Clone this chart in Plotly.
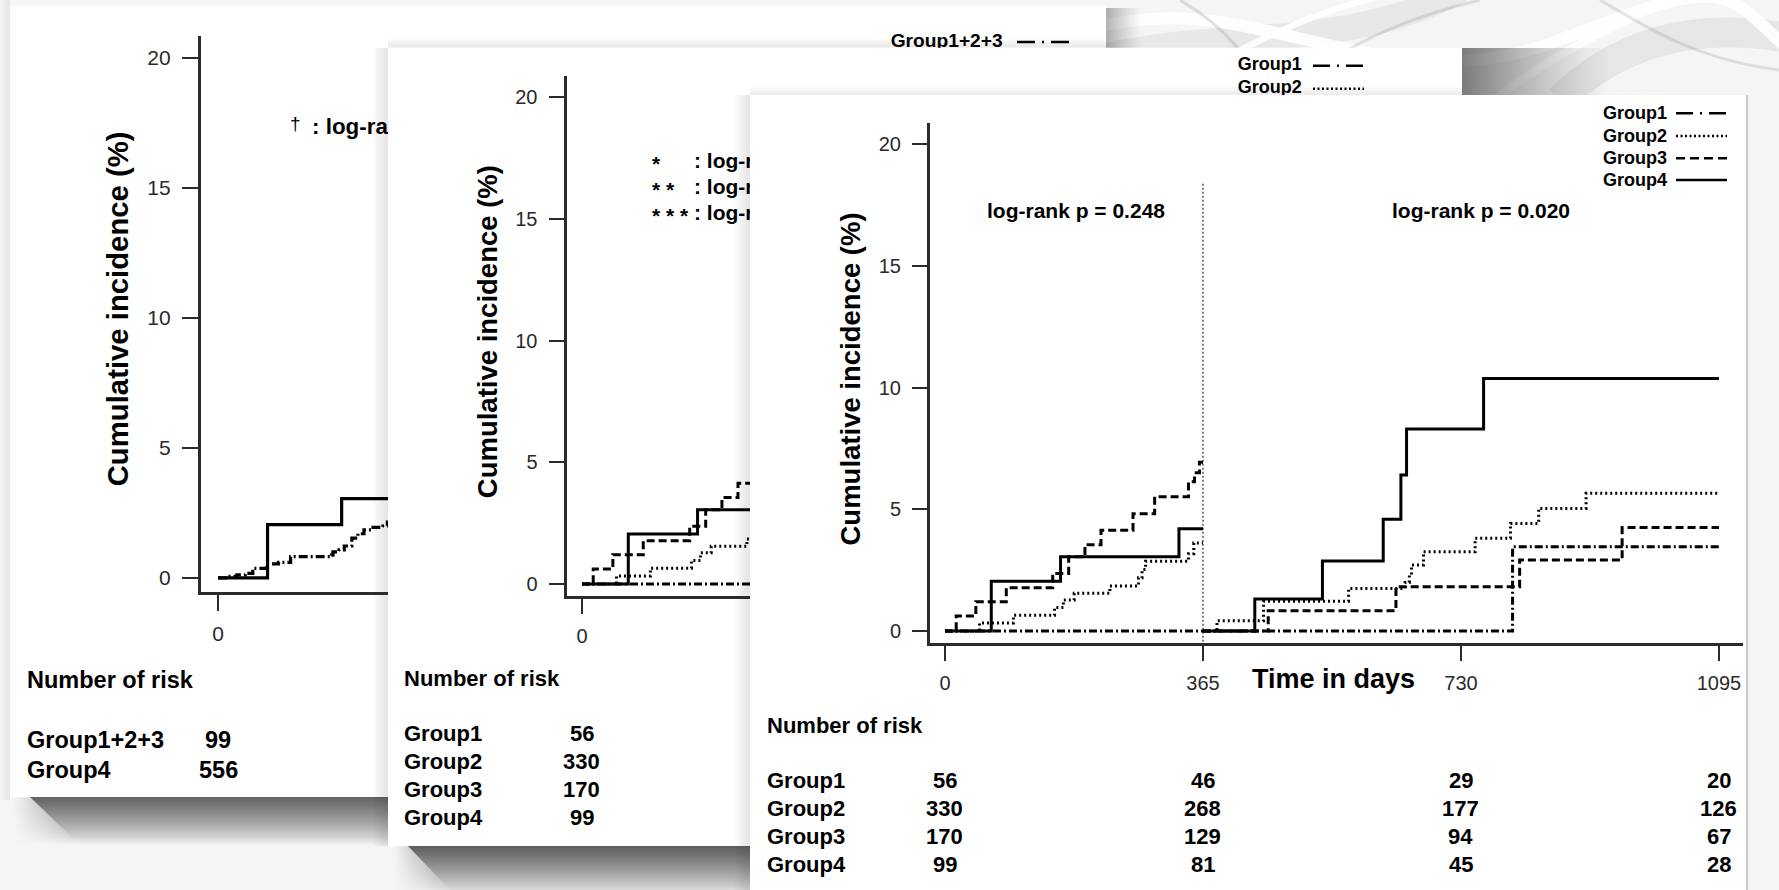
import plotly.graph_objects as go

W, H = 1779, 890
FONT = "Liberation Sans, Arial, Helvetica, sans-serif"
INK = "#000000"
AXIS = "#2b2b2b"
TICKTXT = "#2a2a2a"
BG = (245, 245, 245)

# ---------------- data ----------------
# cumulative incidence (%) during the first year (0-365 days)
g1_y1_days = [0, 365]
g1_y1_pct = [0, 0]
g2_y1_days = [0, 48.8, 96.8, 155, 167.5, 182.8, 233.3, 273.8, 278.8, 283.8, 344.5, 352, 365]
g2_y1_pct = [0, 0.33, 0.65, 0.97, 1.28, 1.55, 1.85, 2.19, 2.53, 2.87, 3.18, 3.62, 3.62]
g3_y1_days = [0, 15.9, 43.7, 86.7, 152.4, 175, 198, 220.7, 266, 296.6, 344.5, 353, 360, 365]
g3_y1_pct = [0, 0.62, 1.20, 1.78, 2.37, 3.05, 3.55, 4.14, 4.82, 5.52, 6.13, 6.50, 6.94, 6.94]
g4_y1_days = [0, 65.5, 163.5, 331, 365]
g4_y1_pct = [0, 2.05, 3.05, 4.20, 4.20]

# cumulative incidence (%) from day 365 to day 1095 (landmark period)
g1_y2_days = [365, 803, 1095]
g1_y2_pct = [0, 3.46, 3.46]
g2_y2_days = [365, 384.8, 450.7, 571, 651, 657, 660, 677, 750, 800, 840, 907, 1095]
g2_y2_pct = [0, 0.42, 1.23, 1.75, 2.0, 2.3, 2.71, 3.26, 3.81, 4.42, 5.04, 5.66, 5.66]
g3_y2_days = [365, 457.3, 638, 813, 958, 1095]
g3_y2_pct = [0, 0.84, 1.82, 2.92, 4.25, 4.25]
g4_y2_days = [365, 438.3, 534, 620, 645, 653, 762, 1095]
g4_y2_pct = [0, 1.32, 2.88, 4.59, 6.41, 8.30, 10.38, 10.38]

# pooled Group1+2+3
g123_days = [0, 12, 25, 36, 46, 64, 80, 96, 150, 152, 160, 167, 177, 185, 193, 205, 218, 224, 240]
g123_pct = [0, 0.06, 0.12, 0.18, 0.37, 0.54, 0.60, 0.82, 0.88, 1.00, 1.08, 1.23, 1.53, 1.70, 1.85, 1.95, 2.00, 2.15, 2.15]

# numbers at risk
risk_days = [0, 365, 730, 1095]
risk_groups = ["Group1", "Group2", "Group3", "Group4"]
risk_g1 = [56, 46, 29, 20]
risk_g2 = [330, 268, 177, 126]
risk_g3 = [170, 129, 94, 67]
risk_g4 = [99, 81, 45, 28]
pooled_groups = ["Group1+2+3", "Group4"]
pooled_risk0 = [99, 556]

x_ticks = [0, 365, 730, 1095]
y_ticks = [0, 5, 10, 15, 20]
p_first_year = "log-rank p = 0.248"
p_landmark = "log-rank p = 0.020"

# line styles per group
DASH = {"g1": "8px,3px,2px,3px", "g2": "2px,3px", "g3": "8px,4px", "g4": "solid"}


def px(x):
    return x / W


def py(y):
    return 1 - y / H


fig = go.Figure()
shapes = []

# ---------------- backdrop layer (subplot xy, pixel coordinates) ----------------
def poly(xs, ys, color=None, grad=None):
    fig.add_trace(go.Scatter(x=xs + [xs[0]], y=ys + [ys[0]], mode="lines", line=dict(width=0),
                             fill="toself", fillcolor=color, fillgradient=grad,
                             xaxis="x", yaxis="y", hoverinfo="skip", showlegend=False))


def rgba(a, rgb=(0, 0, 0)):
    return f"rgba({rgb[0]},{rgb[1]},{rgb[2]},{a:.3f})"


def fade(a0, a1, rgb=(0, 0, 0), power=1.25):
    stops = []
    for k in range(7):
        t = k / 6
        a = a1 + (a0 - a1) * (1 - t) ** power
        stops.append([t, rgba(a, rgb)])
    return stops


def shadow_box(x0, y0, x1, y1, a0, a1, orient, start, stop, power=1.25):
    poly([x0, x1, x1, x0], [y0, y0, y1, y1],
         grad=dict(type=orient, start=start, stop=stop, colorscale=fade(a0, a1, power=power)))


def soft_end(x0, x1, x2, y0, y1):
    # fades the left end of a drop shadow back into the backdrop
    poly([x0, x1, x2, x0], [y0, y0, y1, y1],
         grad=dict(type="horizontal", start=x0, stop=x2,
                   colorscale=[[0, rgba(1, BG)], [0.5, rgba(0.6, BG)], [1, rgba(0, BG)]]))


# soft swirls in the backdrop
for path, wdt, col in [
    ("M 1060,70 C 1200,20 1330,60 1460,-10", 26, "rgba(0,0,0,0.05)"),
    ("M 1560,100 C 1620,40 1700,20 1800,40", 30, "rgba(0,0,0,0.06)"),
    ("M 1090,30 C 1250,-20 1380,110 1560,40 S 1720,-10 1800,60", 12, "rgba(255,255,255,0.9)"),
    ("M 1150,95 C 1260,40 1330,0 1420,-10", 6, "rgba(255,255,255,0.9)"),
    ("M 1500,95 C 1560,50 1640,10 1700,-10", 8, "rgba(255,255,255,0.9)"),
    ("M 1180,0 C 1230,30 1250,60 1270,100", 3, "rgba(120,120,120,0.22)"),
    ("M 1330,60 C 1380,30 1420,15 1480,0", 3, "rgba(120,120,120,0.2)"),
    ("M 1600,0 C 1650,30 1700,60 1779,70", 3, "rgba(120,120,120,0.2)"),
]:
    shapes.append(dict(type="path", path=path, xref="x", yref="y", layer="below",
                       line=dict(color=col, width=wdt)))

# faint shading along the far left edge
shadow_box(0, 0, 10, 800, 0.0, 0.06, "horizontal", 0, 10)

# card 1 with its drop shadow
shadow_box(14, 797, 1106, 845, 0.60, 0.0, "vertical", 797, 845, 0.8)
soft_end(14, 30, 80, 797, 845)
shadow_box(1106, 8, 1142, 48, 0.30, 0.0, "horizontal", 1106, 1142, 1.2)
poly([10, 1106, 1106, 10], [5.7, 5.7, 797, 797], color="#ffffff")

# card 2
shadow_box(372, 48, 388, 846, 0.0, 0.10, "horizontal", 372, 388)
shadow_box(388, 38, 1106, 47.7, 0.0, 0.09, "vertical", 38, 47.7)
shadow_box(394, 846, 1462, 896, 0.62, 0.0, "vertical", 846, 896, 0.8)
soft_end(394, 408, 454, 846, 894)
shadow_box(1462, 48, 1610, 95, 0.50, 0.0, "horizontal", 1462, 1610, 1.2)
poly([388, 1462, 1462, 388], [47.7, 47.7, 846, 846], color="#ffffff")

# card 3
shadow_box(734, 95, 750, 892, 0.0, 0.10, "horizontal", 734, 750)
shadow_box(750, 86, 1462, 95, 0.0, 0.08, "vertical", 86, 95)
poly([750, 1747, 1747, 750], [95, 95, 892, 892], color="#ffffff")
fig.add_trace(go.Scatter(x=[1747, 1747], y=[95, 892], mode="lines", line=dict(color="#b8b8b8", width=1.5),
                         xaxis="x", yaxis="y", hoverinfo="skip", showlegend=False))


# ---------------- axes ----------------
def cart_axes(xdom, ydom, xr, yr, ticklen, fsize, lw):
    ax = dict(domain=[px(xdom[0]), px(xdom[1])], range=xr, showline=True, linewidth=lw,
              linecolor=AXIS, ticks="outside", ticklen=ticklen, tickwidth=2, tickcolor=AXIS,
              tickvals=x_ticks, ticktext=[str(v) for v in x_ticks],
              tickfont=dict(family=FONT, size=fsize, color=TICKTXT),
              showgrid=False, zeroline=False, fixedrange=True, ticklabelstandoff=5)
    ay = dict(domain=[py(ydom[1]), py(ydom[0])], range=yr, showline=True, linewidth=lw,
              linecolor=AXIS, ticks="outside", ticklen=ticklen, tickwidth=2, tickcolor=AXIS,
              tickvals=y_ticks, ticktext=[str(v) for v in y_ticks],
              tickfont=dict(family=FONT, size=fsize, color=TICKTXT),
              showgrid=False, zeroline=False, fixedrange=True, ticklabelstandoff=7)
    return ax, ay


def hidden_axes(xdom, ydom):
    hx = dict(domain=[px(xdom[0]), px(xdom[1])], range=[xdom[0], xdom[1]], visible=False, fixedrange=True)
    hy = dict(domain=[py(ydom[1]), py(ydom[0])], range=[ydom[1], ydom[0]], visible=False, fixedrange=True)
    return hx, hy


ax0, ay0 = hidden_axes((0, W), (0, H))             # backdrop in pixel coordinates
ax1, ay1 = cart_axes((201, 388), (36, 592), [-22.5, 224.8], [-0.54, 20.85], 16, 21, 3.2)
ax2, ay2 = cart_axes((566.5, 750), (76, 595.7), [-21.9, 237.7], [-0.48, 20.87], 15, 20, 3)
ax3, ay3 = cart_axes((930, 1743), (123.3, 643), [-21.2, 1129], [-0.49, 20.86], 15, 20, 3)
ax4, ay4 = hidden_axes((388, 1106), (5.7, 47.7))   # strip of card 1 above card 2
ax5, ay5 = hidden_axes((750, 1462), (47.7, 95))    # strip of card 2 above card 3

C1 = ("x2", "y2")
C2 = ("x3", "y3")
C3 = ("x4", "y4")
S1 = ("x5", "y5")
S2 = ("x6", "y6")


# ---------------- curves ----------------
def step(xs, ys, dash, sub, width=3):
    fig.add_trace(go.Scatter(x=xs, y=ys, mode="lines", line=dict(shape="hv", color=INK, width=width, dash=dash),
                             xaxis=sub[0], yaxis=sub[1], hoverinfo="skip", showlegend=False))


# card 1: pooled groups vs Group4
step(g123_days, g123_pct, "9px,3px,2px,3px", C1, 3.2)
step(g4_y1_days, g4_y1_pct, "solid", C1, 3.2)

# card 2: four groups
step(g1_y1_days, g1_y1_pct, DASH["g1"], C2)
step(g2_y1_days, g2_y1_pct, DASH["g2"], C2)
step(g3_y1_days, g3_y1_pct, DASH["g3"], C2)
step(g4_y1_days, g4_y1_pct, DASH["g4"], C2)

# card 3: first year and landmark period
fig.add_trace(go.Scatter(x=[365, 365], y=[-0.6, 18.4], mode="lines",
                         line=dict(color="#555555", width=1.5, dash="2px,2px"),
                         xaxis=C3[0], yaxis=C3[1], hoverinfo="skip", showlegend=False))
for xs, ys, d in [(g1_y1_days, g1_y1_pct, "g1"), (g2_y1_days, g2_y1_pct, "g2"),
                  (g3_y1_days, g3_y1_pct, "g3"), (g4_y1_days, g4_y1_pct, "g4"),
                  (g1_y2_days, g1_y2_pct, "g1"), (g2_y2_days, g2_y2_pct, "g2"),
                  (g3_y2_days, g3_y2_pct, "g3"), (g4_y2_days, g4_y2_pct, "g4")]:
    step(xs, ys, DASH[d], C3)


# ---------------- clipped texts (partly hidden under upper cards) ----------------
def clipped_text(x, y, text, size, sub, weight="bold"):
    fig.add_trace(go.Scatter(x=[x], y=[y], mode="text", text=[text], textposition="middle right",
                             textfont=dict(family=FONT, size=size, color=INK, weight=weight),
                             xaxis=sub[0], yaxis=sub[1], hoverinfo="skip", showlegend=False, cliponaxis=True))


def sample(x0, x1, y, dash, sub, width=2.5):
    fig.add_trace(go.Scatter(x=[x0, x1], y=[y, y], mode="lines", line=dict(color=INK, width=width, dash=dash),
                             xaxis=sub[0], yaxis=sub[1], hoverinfo="skip", showlegend=False))


# card 1 note and legend
clipped_text((312 - 218) / 0.75616, (578 - 128) / 26.0, ": log-ra", 22.4, C1)
clipped_text(890.7, 42, "Group1+2+3", 19.2, S1)
sample(1017, 1071, 42, "18px,7px,2px,7px", S1)

# card 2 notes and legend
for yy in (163, 189, 215):
    clipped_text((694 - 582) / 0.7068, (584.1 - yy) / 24.34, ": log-r", 21, C2)
clipped_text(1237.7, 65.7, "Group1", 18, S2)
clipped_text(1237.7, 88.7, "Group2", 18, S2)
sample(1313, 1364, 65.7, "17px,7px,2px,7px", S2)
sample(1313, 1364, 88.7, "2px,2.5px", S2)

# ---------------- annotations ----------------
ann = []


def text(x, y, s, size, xanchor="left", bold=True, angle=0, xref="paper", color=INK):
    ann.append(dict(x=x if xref != "paper" else px(x), y=py(y), xref=xref, yref="paper", text=s,
                    showarrow=False, xanchor=xanchor, yanchor="middle", textangle=angle,
                    font=dict(family=FONT, size=size, color=color, weight="bold" if bold else "normal")))


# y titles
text(117, 309.3, "Cumulative incidence (%)", 29.3, "center", angle=-90)
text(487, 332.2, "Cumulative incidence (%)", 27.5, "center", angle=-90)
text(850, 379.5, "Cumulative incidence (%)", 27.5, "center", angle=-90)

# card 1 extras
text(288, 124, "†", 19, "left", bold=False)
text(25, 680, "Number of risk", 23.5)
for lab, n, yy in zip(pooled_groups, pooled_risk0, (740, 770)):
    text(25, yy, lab, 23.5)
    text(0, yy, str(n), 23.5, "center", xref=C1[0])

# card 2 extras
for stars, yy in zip(("*", "* *", "* * *"), (163, 189, 215)):
    text(650, yy, stars, 21, "left")
text(402, 678, "Number of risk", 22)
rows2 = (733.4, 761.5, 789.2, 817.0)
for lab, vals, yy in zip(risk_groups, (risk_g1, risk_g2, risk_g3, risk_g4), rows2):
    text(402, yy, lab, 22)
    text(0, yy, str(vals[0]), 22, "center", xref=C2[0])

# card 3
text(1076, 210.7, p_first_year, 21, "center")
text(1480.5, 210.7, p_landmark, 21, "center")
text(1333, 679, "Time in days", 27, "center")
text(765, 725.5, "Number of risk", 22)
rows3 = (780.7, 808.5, 836.3, 864.1)
for lab, vals, yy in zip(risk_groups, (risk_g1, risk_g2, risk_g3, risk_g4), rows3):
    text(765, yy, lab, 22)
    for d, v in zip(risk_days, vals):
        text(d, yy, str(v), 22, "center", xref=C3[0])

# card 3 legend
leg_y = (113.3, 136.0, 158.3, 180.0)
leg_dash = ("17px,7px,2px,7px", "2px,2.5px", "9px,5px", "solid")
for lab, yy, dsh in zip(risk_groups, leg_y, leg_dash):
    text(1600.7, yy, lab, 18)
    shapes.append(dict(type="line", xref="paper", yref="paper", layer="above",
                       x0=px(1676), x1=px(1727), y0=py(yy), y1=py(yy),
                       line=dict(color=INK, width=2.5, dash=dsh)))

fig.update_layout(
    width=W, height=H, autosize=False,
    margin=dict(l=0, r=0, t=0, b=0, pad=0),
    paper_bgcolor="rgb(%d,%d,%d)" % BG, plot_bgcolor="rgba(0,0,0,0)",
    showlegend=False,
    xaxis=dict(ax0, anchor="y"), yaxis=dict(ay0, anchor="x"),
    xaxis2=dict(ax1, anchor="y2"), yaxis2=dict(ay1, anchor="x2"),
    xaxis3=dict(ax2, anchor="y3"), yaxis3=dict(ay2, anchor="x3"),
    xaxis4=dict(ax3, anchor="y4"), yaxis4=dict(ay3, anchor="x4"),
    xaxis5=dict(ax4, anchor="y5"), yaxis5=dict(ay4, anchor="x5"),
    xaxis6=dict(ax5, anchor="y6"), yaxis6=dict(ay5, anchor="x6"),
    shapes=shapes, annotations=ann,
)

fig.write_html("out.html", config={"displayModeBar": False, "staticPlot": True})
